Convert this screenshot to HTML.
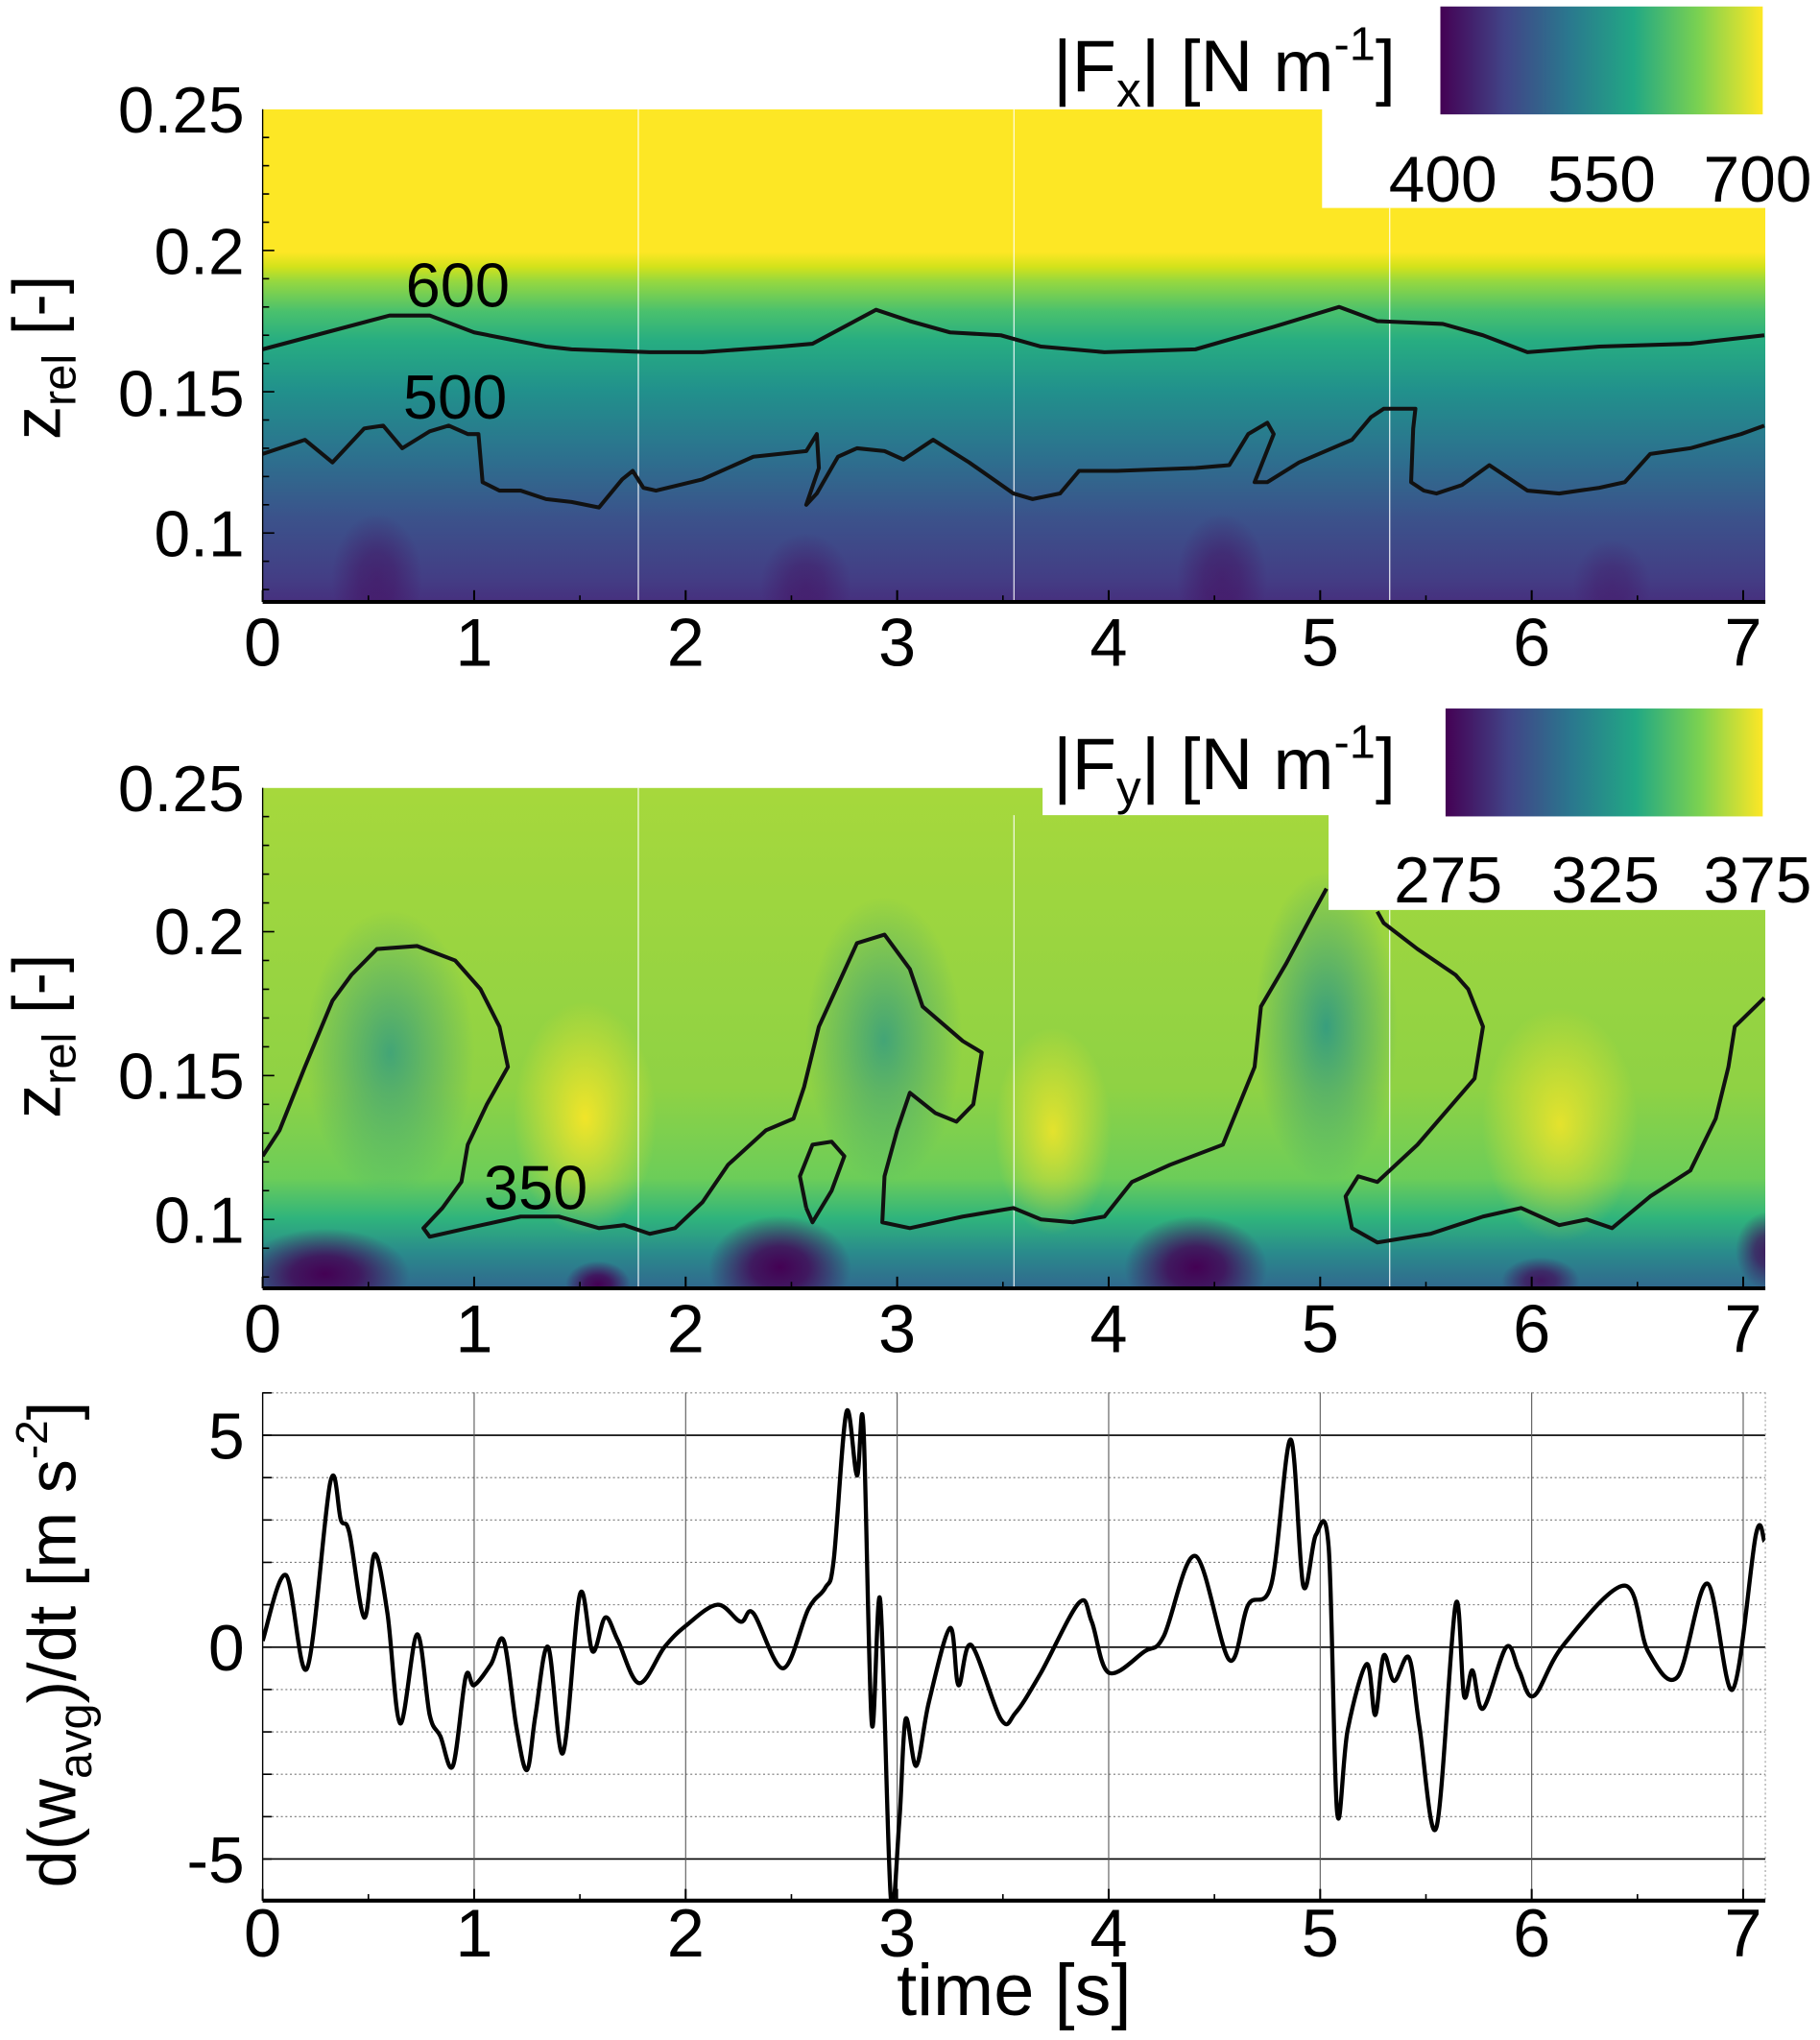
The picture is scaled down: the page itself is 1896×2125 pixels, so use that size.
<!DOCTYPE html>
<html><head><meta charset="utf-8"><style>
html,body{margin:0;padding:0;background:#fff;}
svg{display:block;font-family:"Liberation Sans",sans-serif;}
</style></head><body>
<svg id="fig" width="1896" height="2125" viewBox="0 0 1400 1569.2" xmlns="http://www.w3.org/2000/svg">
<defs>
<linearGradient id="vir" x1="0" y1="0" x2="1" y2="0">
<stop offset="0" stop-color="#440154"/><stop offset="0.2" stop-color="#414487"/><stop offset="0.4" stop-color="#2a788e"/><stop offset="0.6" stop-color="#22a884"/><stop offset="0.8" stop-color="#7ad151"/><stop offset="1" stop-color="#fde725"/>
</linearGradient>
<linearGradient id="g1" x1="0" y1="84" x2="0" y2="463" gradientUnits="userSpaceOnUse">
<stop offset="0" stop-color="#fde725"/><stop offset="0.29" stop-color="#fde725"/><stop offset="0.32" stop-color="#d2e21b"/><stop offset="0.35" stop-color="#95d840"/><stop offset="0.41" stop-color="#4ac16d"/><stop offset="0.47" stop-color="#27ad81"/><stop offset="0.57" stop-color="#21918c"/><stop offset="0.7" stop-color="#2c728e"/><stop offset="0.83" stop-color="#3b528b"/><stop offset="0.95" stop-color="#433e85"/><stop offset="1" stop-color="#46307e"/>
</linearGradient>
<radialGradient id="purp"><stop offset="0" stop-color="#440154"/><stop offset="0.4" stop-color="#440154" stop-opacity="0.8"/><stop offset="1" stop-color="#440154" stop-opacity="0"/></radialGradient>
<radialGradient id="teal"><stop offset="0" stop-color="#21918c"/><stop offset="1" stop-color="#21918c" stop-opacity="0"/></radialGradient>
<radialGradient id="yel"><stop offset="0" stop-color="#fde725"/><stop offset="1" stop-color="#fde725" stop-opacity="0"/></radialGradient>
<linearGradient id="g2" x1="0" y1="606" x2="0" y2="991" gradientUnits="userSpaceOnUse">
<stop offset="0" stop-color="#a6d83c"/><stop offset="0.6" stop-color="#8fd244"/><stop offset="0.78" stop-color="#6ccd59"/><stop offset="0.86" stop-color="#2fb47c"/><stop offset="0.93" stop-color="#2a8a8c"/><stop offset="1" stop-color="#31688e"/>
</linearGradient>
<clipPath id="c1"><path d="M202 84H1017V160H1358V463H202Z"/></clipPath>
<clipPath id="c2"><path d="M202 606H802V627H1022V700H1358V991H202Z"/></clipPath>
<clipPath id="c3"><rect x="202" y="1071" width="1156" height="391"/></clipPath>
</defs>

<g clip-path="url(#c1)">
<rect x="202" y="84" width="1156" height="379" fill="url(#g1)"/>
<ellipse cx="290" cy="445" rx="35" ry="50" fill="url(#purp)" opacity="0.45"/>
<ellipse cx="620" cy="450" rx="35" ry="40" fill="url(#purp)" opacity="0.4"/>
<ellipse cx="940" cy="445" rx="35" ry="50" fill="url(#purp)" opacity="0.45"/>
<ellipse cx="1240" cy="450" rx="30" ry="35" fill="url(#purp)" opacity="0.3"/>
<line x1="491" y1="84" x2="491" y2="463" stroke="#fff" stroke-width="1" opacity="0.8"/>
<line x1="780" y1="84" x2="780" y2="463" stroke="#fff" stroke-width="1" opacity="0.8"/>
<line x1="1069" y1="160" x2="1069" y2="463" stroke="#fff" stroke-width="1" opacity="0.8"/>
<g id="p1contours"></g>
</g>
<g font-size="50">
<line x1="202" y1="463" x2="1358" y2="463" stroke="#000" stroke-width="3"/>
<g id="p1ticks"></g>
<text x="188" y="102" text-anchor="end">0.25</text>
<text x="188" y="211" text-anchor="end">0.2</text>
<text x="188" y="320" text-anchor="end">0.15</text>
<text x="188" y="428" text-anchor="end">0.1</text>
<text x="312" y="236" font-size="48">600</text>
<text x="310" y="322" font-size="48">500</text>
<text transform="translate(46,275) rotate(-90)" text-anchor="middle" font-size="52">z<tspan font-size="36" dy="12">rel</tspan><tspan dy="-12"> [-]</tspan></text>
<text x="810" y="70" font-size="56">|F<tspan font-size="38" dy="12">x</tspan><tspan dy="-12">| [N m</tspan><tspan font-size="36" dy="-24">-1</tspan><tspan dy="24">]</tspan></text>
<rect x="1108" y="5" width="248" height="83" fill="url(#vir)"/>
<text x="1110" y="155" text-anchor="middle">400</text>
<text x="1232" y="155" text-anchor="middle">550</text>
<text x="1352" y="155" text-anchor="middle">700</text>
</g>

<g clip-path="url(#c2)">
<rect x="202" y="606" width="1156" height="385" fill="url(#g2)"/>
<ellipse cx="300" cy="810" rx="65" ry="110" fill="url(#teal)" opacity="0.7"/>
<ellipse cx="680" cy="800" rx="60" ry="110" fill="url(#teal)" opacity="0.7"/>
<ellipse cx="1020" cy="790" rx="55" ry="120" fill="url(#teal)" opacity="0.8"/>
<ellipse cx="450" cy="860" rx="55" ry="90" fill="url(#yel)" opacity="0.9"/>
<ellipse cx="810" cy="870" rx="45" ry="80" fill="url(#yel)" opacity="0.8"/>
<ellipse cx="1200" cy="865" rx="60" ry="90" fill="url(#yel)" opacity="0.8"/>
<ellipse cx="250" cy="980" rx="65" ry="35" fill="url(#purp)"/>
<ellipse cx="600" cy="975" rx="55" ry="40" fill="url(#purp)"/>
<ellipse cx="920" cy="975" rx="55" ry="40" fill="url(#purp)"/>
<ellipse cx="460" cy="988" rx="25" ry="18" fill="url(#purp)"/>
<ellipse cx="1185" cy="985" rx="30" ry="18" fill="url(#purp)" opacity="0.8"/>
<ellipse cx="1360" cy="962" rx="25" ry="30" fill="url(#purp)" opacity="0.8"/>
<line x1="491" y1="606" x2="491" y2="991" stroke="#fff" stroke-width="1" opacity="0.8"/>
<line x1="780" y1="627" x2="780" y2="991" stroke="#fff" stroke-width="1" opacity="0.8"/>
<line x1="1069" y1="700" x2="1069" y2="991" stroke="#fff" stroke-width="1" opacity="0.8"/>
<g id="p2contours"></g>
</g>
<g font-size="50">
<line x1="202" y1="991" x2="1358" y2="991" stroke="#000" stroke-width="3"/>
<g id="p2ticks"></g>
<text x="188" y="624" text-anchor="end">0.25</text>
<text x="188" y="734" text-anchor="end">0.2</text>
<text x="188" y="845" text-anchor="end">0.15</text>
<text x="188" y="956" text-anchor="end">0.1</text>
<text x="372" y="930" font-size="48">350</text>
<text transform="translate(46,797) rotate(-90)" text-anchor="middle" font-size="52">z<tspan font-size="36" dy="12">rel</tspan><tspan dy="-12"> [-]</tspan></text>
<text x="810" y="607" font-size="56">|F<tspan font-size="38" dy="12">y</tspan><tspan dy="-12">| [N m</tspan><tspan font-size="36" dy="-24">-1</tspan><tspan dy="24">]</tspan></text>
<rect x="1112" y="545" width="244" height="83" fill="url(#vir)"/>
<text x="1114" y="694" text-anchor="middle">275</text>
<text x="1235" y="694" text-anchor="middle">325</text>
<text x="1352" y="694" text-anchor="middle">375</text>
</g>

<g font-size="50">
<g id="p3grid"></g>
<g clip-path="url(#c3)"><path id="p3line" fill="none" stroke="#000" stroke-width="3.2" stroke-linejoin="round"/></g>
<line x1="202" y1="1071" x2="202" y2="1462" stroke="#000" stroke-width="1"/>
<line x1="202" y1="1462" x2="1358" y2="1462" stroke="#000" stroke-width="3"/>
<g id="p3ticks"></g>
<text x="188" y="1122" text-anchor="end">5</text>
<text x="188" y="1285" text-anchor="end">0</text>
<text x="188" y="1448" text-anchor="end">-5</text>
<text transform="translate(58,1265) rotate(-90)" text-anchor="middle" font-size="52">d(w<tspan font-size="36" dy="12">avg</tspan><tspan dy="-12">)/dt [m s</tspan><tspan font-size="34" dy="-22">-2</tspan><tspan dy="22">]</tspan></text>
<text x="780" y="1550" text-anchor="middle" font-size="56">time [s]</text>
</g>
</svg>
<script>
var xTicks=[0,1,2,3,4,5,6,7];
var p1Contour600T=[0,0.3,0.6,0.79,1.0,1.34,1.46,1.83,2.08,2.45,2.6,2.9,3.06,3.25,3.49,3.68,3.98,4.41,4.78,5.09,5.27,5.58,5.77,5.98,6.32,6.75,7.1];
var p1Contour600Z=[0.165,0.171,0.177,0.177,0.171,0.166,0.165,0.164,0.164,0.166,0.167,0.179,0.175,0.171,0.170,0.166,0.164,0.165,0.173,0.180,0.175,0.174,0.170,0.164,0.166,0.167,0.170];
var p1Contour500T=[0,0.2,0.33,0.48,0.57,0.66,0.79,0.88,0.97,1.02,1.04,1.12,1.22,1.34,1.46,1.59,1.7,1.75,1.8,1.86,2.08,2.32,2.57,2.62,2.63,2.57,2.62,2.72,2.81,2.94,3.03,3.17,3.34,3.55,3.64,3.77,3.86,4.04,4.41,4.57,4.66,4.75,4.78,4.69,4.75,4.9,5.15,5.24,5.3,5.45,5.44,5.43,5.49,5.55,5.67,5.8,5.98,6.13,6.32,6.44,6.56,6.75,6.99,7.1];
var p1Contour500Z=[0.128,0.133,0.125,0.137,0.138,0.130,0.136,0.138,0.135,0.135,0.118,0.115,0.115,0.112,0.111,0.109,0.119,0.122,0.116,0.115,0.119,0.127,0.129,0.135,0.123,0.110,0.114,0.127,0.130,0.129,0.126,0.133,0.125,0.114,0.112,0.114,0.122,0.122,0.123,0.124,0.135,0.139,0.135,0.118,0.118,0.125,0.133,0.141,0.144,0.144,0.137,0.118,0.115,0.114,0.117,0.124,0.115,0.114,0.116,0.118,0.128,0.130,0.135,0.138];
var p2ContourAT=[0,0.08,0.2,0.33,0.42,0.54,0.73,0.91,1.03,1.12,1.16,1.06,0.97,0.94,0.85,0.76,0.79,0.97,1.22,1.4,1.59,1.71,1.83,1.95,2.08,2.2,2.38,2.51,2.56,2.63,2.81,2.94,3.06,3.12,3.31,3.4,3.36,3.28,3.18,3.06,3.0,2.94,2.93,3.06,3.31,3.55,3.68,3.83,3.98,4.11,4.29,4.54,4.69,4.72,4.84,4.97,5.03];
var p2ContourAZ=[0.122,0.131,0.153,0.176,0.185,0.194,0.195,0.190,0.180,0.167,0.153,0.140,0.126,0.113,0.104,0.097,0.094,0.097,0.101,0.101,0.097,0.098,0.095,0.097,0.106,0.119,0.131,0.135,0.146,0.167,0.196,0.199,0.187,0.174,0.162,0.158,0.140,0.134,0.137,0.144,0.131,0.115,0.099,0.097,0.101,0.104,0.100,0.099,0.101,0.113,0.119,0.126,0.153,0.174,0.189,0.207,0.215];
var p2ContourBT=[5.27,5.3,5.46,5.64,5.7,5.77,5.73,5.46,5.27,5.18,5.12,5.15,5.27,5.52,5.77,5.95,6.13,6.26,6.38,6.56,6.75,6.87,6.93,6.96,7.1];
var p2ContourBZ=[0.207,0.203,0.194,0.185,0.180,0.167,0.149,0.126,0.113,0.115,0.108,0.097,0.092,0.095,0.101,0.104,0.098,0.100,0.097,0.108,0.117,0.135,0.153,0.167,0.177];
var p2ContourCT=[2.57,2.54,2.6,2.69,2.75,2.69,2.6,2.57];
var p2ContourCZ=[0.104,0.115,0.126,0.127,0.122,0.110,0.099,0.104];
var accTime=[0,0.11,0.21,0.32,0.37,0.41,0.48,0.53,0.59,0.65,0.73,0.79,0.84,0.9,0.96,1.0,1.08,1.14,1.2,1.25,1.29,1.35,1.42,1.5,1.56,1.62,1.68,1.78,1.9,2.0,2.15,2.26,2.32,2.46,2.58,2.66,2.7,2.76,2.81,2.84,2.88,2.92,2.97,3.01,3.04,3.09,3.15,3.25,3.29,3.35,3.49,3.56,3.68,3.86,3.92,4.0,4.17,4.26,4.41,4.57,4.66,4.77,4.86,4.92,4.98,5.04,5.08,5.13,5.22,5.26,5.3,5.35,5.42,5.47,5.55,5.64,5.68,5.72,5.77,5.88,5.94,6.01,6.15,6.44,6.55,6.69,6.83,6.95,7.06,7.1];
var accValue=[0.15,1.7,-0.5,3.9,3.0,2.7,0.7,2.2,0.8,-1.8,0.3,-1.6,-2.1,-2.8,-0.7,-0.9,-0.4,0.15,-1.9,-2.9,-1.6,0,-2.5,1.25,-0.1,0.7,0.15,-0.85,0,0.5,1.0,0.6,0.8,-0.5,0.9,1.4,2.05,5.55,4.05,5.25,-1.8,1.1,-5.9,-4.1,-1.7,-2.8,-1.3,0.45,-0.9,0.05,-1.7,-1.55,-0.6,1.05,0.6,-0.6,-0.1,0.25,2.15,-0.3,1.0,1.5,4.9,1.45,2.65,2.35,-3.9,-1.95,-0.4,-1.6,-0.2,-0.8,-0.25,-1.9,-4.25,1.0,-1.15,-0.55,-1.45,0.0,-0.55,-1.15,0.05,1.45,-0.1,-0.7,1.5,-1.0,2.65,2.5];

var NS='http://www.w3.org/2000/svg';
function X(t){return 202+t*162.71;}
function Y1(z){return 84+(0.25-z)/0.05*108.67;}
function Y2(z){return 606+(0.25-z)/0.05*110.67;}
function Y3(v){return 1267-v*32.6;}
function mk(tag,parent,attrs){var e=document.createElementNS(NS,tag);for(var k in attrs)e.setAttribute(k,attrs[k]);document.getElementById(parent).appendChild(e);return e;}
function poly(T,Z,Y){var d='';for(var i=0;i<T.length;i++)d+=(i?'L':'M')+X(T[i]).toFixed(1)+' '+Y(Z[i]).toFixed(1);return d;}
function smooth(T,V,Y){var p=[];for(var i=0;i<T.length;i++)p.push([X(T[i]),Y(V[i])]);var d='M'+p[0][0]+' '+p[0][1];for(var i=0;i<p.length-1;i++){var a=p[Math.max(0,i-1)],b=p[i],c=p[i+1],e=p[Math.min(p.length-1,i+2)];d+='C'+(b[0]+(c[0]-a[0])/6).toFixed(1)+' '+(b[1]+(c[1]-a[1])/6).toFixed(1)+' '+(c[0]-(e[0]-b[0])/6).toFixed(1)+' '+(c[1]-(e[1]-b[1])/6).toFixed(1)+' '+c[0].toFixed(1)+' '+c[1].toFixed(1);}return d;}
var cs={fill:'none',stroke:'#111','stroke-width':3,'stroke-linejoin':'round'};
var c;
c=mk('path','p1contours',cs);c.setAttribute('d',poly(p1Contour600T,p1Contour600Z,Y1));


c=mk('path','p1contours',cs);c.setAttribute('d',poly(p1Contour500T,p1Contour500Z,Y1));


c=mk('path','p2contours',cs);c.setAttribute('d',poly(p2ContourAT,p2ContourAZ,Y2));


c=mk('path','p2contours',cs);c.setAttribute('d',poly(p2ContourBT,p2ContourBZ,Y2));


c=mk('path','p2contours',cs);c.setAttribute('d',poly(p2ContourCT,p2ContourCZ,Y2));



[['p1ticks',463,512,Y1,84],['p2ticks',991,1040,Y2,606],['p3ticks',1462,1505,null,0]].forEach(function(P){
  xTicks.forEach(function(t){
    mk('line',P[0],{x1:X(t),x2:X(t),y1:P[1],y2:P[1]-9,stroke:'#000','stroke-width':1.5});
    if(t<7)mk('line',P[0],{x1:X(t+0.5),x2:X(t+0.5),y1:P[1],y2:P[1]-5,stroke:'#000','stroke-width':1.2});
    var tx=mk('text',P[0],{x:X(t),y:P[2],'text-anchor':'middle','font-size':52});tx.textContent=t;
    
    
  });
  if(P[3]){for(var z=0.08;z<=0.2501;z+=0.01){var y=P[3](z);if(y>=P[4]&&y<=P[1]){var maj=Math.abs(Math.round(z*100)%5)==0;mk('line',P[0],{x1:202,x2:202+(maj?9:5),y1:y,y2:y,stroke:'#000','stroke-width':1.2});}}
    mk('line',P[0],{x1:202,x2:202,y1:P[4],y2:P[1],stroke:'#000','stroke-width':1});}
});
for(var v=-6;v<=6;v++){var y=Y3(v);var maj=(v%5==0);mk('line','p3grid',{x1:202,x2:1358,y1:y,y2:y,stroke:maj?'#000':'#777','stroke-width':maj?1.2:0.8,'stroke-dasharray':maj?'none':'1.5 2'});mk('line','p3grid',{x1:202,x2:209,y1:y,y2:y,stroke:'#000','stroke-width':1.2});}
xTicks.forEach(function(t){mk('line','p3grid',{x1:X(t),x2:X(t),y1:1071,y2:1462,stroke:'#555','stroke-width':0.8});});
mk('line','p3grid',{x1:1358,x2:1358,y1:1071,y2:1462,stroke:'#999','stroke-width':0.8,'stroke-dasharray':'1.5 2'});
document.getElementById('p3line').setAttribute('d',smooth(accTime,accValue,Y3));
</script>
</body></html>
